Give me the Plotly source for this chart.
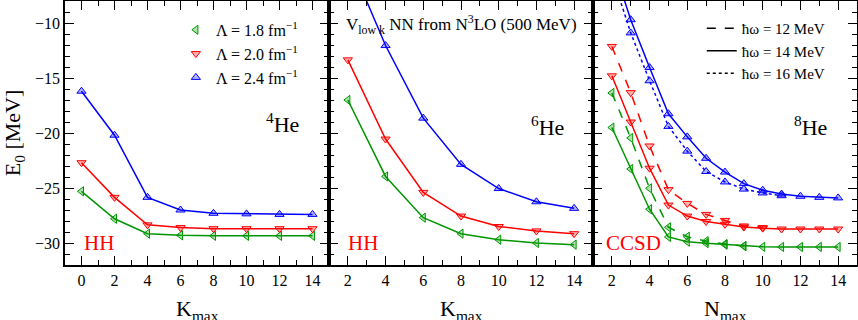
import plotly.graph_objects as go
from plotly.subplots import make_subplots

# panel 1: 4He, hyperspherical harmonics
k_he4 = [0, 2, 4, 6, 8, 10, 12, 14]
he4_l18 = [-25.3, -27.8, -29.15, -29.3, -29.35, -29.35, -29.35, -29.35]
he4_l20 = [-22.7, -25.85, -28.35, -28.6, -28.7, -28.7, -28.7, -28.7]
he4_l24 = [-16.2, -20.2, -25.85, -27.0, -27.3, -27.35, -27.4, -27.4]

# panel 2: 6He, hyperspherical harmonics
k_he6 = [2, 4, 6, 8, 10, 12, 14]
he6_l18 = [-17.0, -23.95, -27.7, -29.15, -29.7, -30.0, -30.15]
he6_l20 = [-13.35, -20.55, -25.4, -27.55, -28.5, -28.9, -29.15]
he6_l24 = [-4.0, -12.05, -18.65, -22.85, -25.05, -26.25, -26.85]

# panel 3: 8He, CCSD
n_he8 = [2, 3, 4, 5, 6, 7, 8, 9, 10, 11, 12, 13, 14]
he8_l18_hw14 = [-19.5, -23.27, -26.93, -29.45, -29.88, -30.02, -30.15, -30.28,
                -30.35, -30.36, -30.36, -30.36, -30.36]
he8_l20_hw14 = [-14.8, -19.0, -23.2, -26.55, -27.55, -28.05, -28.3, -28.55,
                -28.65, -28.73, -28.73, -28.73, -28.73]
he8_l24_hw14 = [-4.4, -9.7, -14.05, -18.25, -20.35, -22.3, -23.55, -24.6,
                -25.2, -25.55, -25.75, -25.85, -25.9]
n_he8_l18_hw12 = [2, 3, 4, 5, 6, 7, 8, 9]
he8_l18_hw12 = [-16.36, -20.45, -25.03, -28.57, -29.43, -29.83, -30.1, -30.28]
n_he8_l20_hw12 = [2, 3, 4, 5, 6, 7, 8, 9, 10]
he8_l20_hw12 = [-12.13, -16.33, -21.18, -25.15, -26.4, -27.4, -27.95, -28.45, -28.6]
n_he8_l24_hw16 = [2, 3, 4, 5, 6, 7, 8, 9, 10, 11]
he8_l24_hw16 = [-5.6, -10.9, -15.25, -19.4, -21.65, -23.5, -24.45, -25.1, -25.45, -25.7]

lambda_labels = ["Λ = 1.8 fm<sup>−1</sup>", "Λ = 2.0 fm<sup>−1</sup>", "Λ = 2.4 fm<sup>−1</sup>"]
hw_labels = ["ħω = 12 MeV", "ħω = 14 MeV", "ħω = 16 MeV"]
x_titles = ["K<sub>max</sub>", "K<sub>max</sub>", "N<sub>max</sub>"]

FONT = "Liberation Serif"
GREEN = "rgb(0,150,0)"
RED = "rgb(255,0,0)"
BLUE = "rgb(0,0,255)"
FILLS = {GREEN: "rgba(0,150,0,0.3)", RED: "rgba(255,0,0,0.3)", BLUE: "rgba(0,0,255,0.3)"}
SYMBOLS = {GREEN: "triangle-left", RED: "triangle-down", BLUE: "triangle-up"}

fig = make_subplots(rows=1, cols=3, shared_yaxes=True, horizontal_spacing=0)


def add_curve(x, y, color, col, dash="solid"):
    fig.add_trace(go.Scatter(
        x=x, y=y, mode="lines+markers", showlegend=False,
        line=dict(color=color, width=1.5, dash=dash),
        marker=dict(symbol=SYMBOLS[color], size=8, color=FILLS[color],
                    line=dict(color=color, width=1)),
    ), row=1, col=col)


add_curve(k_he4, he4_l18, GREEN, 1)
add_curve(k_he4, he4_l20, RED, 1)
add_curve(k_he4, he4_l24, BLUE, 1)

add_curve(k_he6, he6_l18, GREEN, 2)
add_curve(k_he6, he6_l20, RED, 2)
add_curve(k_he6, he6_l24, BLUE, 2)

add_curve(n_he8_l18_hw12, he8_l18_hw12, GREEN, 3, "dash")
add_curve(n_he8_l20_hw12, he8_l20_hw12, RED, 3, "dash")
add_curve(n_he8_l24_hw16, he8_l24_hw16, BLUE, 3, "dot")
add_curve(n_he8, he8_l18_hw14, GREEN, 3)
add_curve(n_he8, he8_l20_hw14, RED, 3)
add_curve(n_he8, he8_l24_hw14, BLUE, 3)

# legend entries (markers only) for the cutoffs
for lab, color in zip(lambda_labels, [GREEN, RED, BLUE]):
    fig.add_trace(go.Scatter(
        x=[None], y=[None], mode="markers", name=lab, legend="legend",
        marker=dict(symbol=SYMBOLS[color], size=8, color=FILLS[color],
                    line=dict(color=color, width=1)),
    ), row=1, col=1)

# legend entries (line styles) for the oscillator frequencies
for lab, dash in zip(hw_labels, ["dash", "solid", "dot"]):
    fig.add_trace(go.Scatter(
        x=[None], y=[None], mode="lines", name=lab, legend="legend2",
        line=dict(color="black", width=1.5, dash=dash),
    ), row=1, col=3)

axis_style = dict(
    showline=True, linecolor="black", linewidth=1.5, mirror="ticks",
    ticks="inside", ticklen=9, tickwidth=1.2, tickcolor="black",
    showgrid=False, zeroline=False, automargin=False,
    tickfont=dict(family=FONT, size=16, color="black"),
    minor=dict(ticks="inside", ticklen=5, tickwidth=1, tickcolor="black", dtick=1),
)

fig.update_xaxes(**axis_style, dtick=2, tick0=0)
fig.update_xaxes(range=[-1, 15], row=1, col=1)
fig.update_xaxes(range=[1, 15], row=1, col=2)
fig.update_xaxes(range=[1, 15], row=1, col=3)
fig.update_yaxes(**axis_style, range=[-32, -8], dtick=5, tick0=0)

title_font = dict(family=FONT, size=22, color="black")
fig.update_yaxes(title=dict(text="E<sub>0</sub> [MeV]", font=title_font, standoff=14), row=1, col=1)

# x titles as annotations so they can sit a little lower than plotly allows
for i, t in enumerate(x_titles):
    ax = "x" if i == 0 else f"x{i + 1}"
    fig.add_annotation(x=0.5, y=-0.108, xref=f"{ax} domain", yref="paper", text=t,
                       showarrow=False, xanchor="center", yanchor="top", font=title_font)

# panel labels
nuc_font = dict(family=FONT, size=22, color="black")
red_font = dict(family=FONT, size=21, color="red")
fig.add_annotation(x=13.3, y=-19.1, xref="x", yref="y", text="<sup>4</sup>He",
                   showarrow=False, xanchor="right", yanchor="middle", font=nuc_font)
fig.add_annotation(x=13.57, y=-19.4, xref="x2", yref="y2", text="<sup>6</sup>He",
                   showarrow=False, xanchor="right", yanchor="middle", font=nuc_font)
fig.add_annotation(x=13.49, y=-19.4, xref="x3", yref="y3", text="<sup>8</sup>He",
                   showarrow=False, xanchor="right", yanchor="middle", font=nuc_font)
fig.add_annotation(x=0, y=-30, xref="x", yref="y", text="HH",
                   showarrow=False, xanchor="left", yanchor="middle", font=red_font)
fig.add_annotation(x=1.88, y=-30, xref="x2", yref="y2", text="HH",
                   showarrow=False, xanchor="left", yanchor="middle", font=red_font)
fig.add_annotation(x=1.58, y=-30, xref="x3", yref="y3", text="CCSD",
                   showarrow=False, xanchor="left", yanchor="middle", font=red_font)
fig.add_annotation(x=1.77, y=-10.1, xref="x2", yref="y2",
                   text="V<sub>low k</sub> NN from N<sup>3</sup>LO (500 MeV)",
                   showarrow=False, xanchor="left", yanchor="middle",
                   font=dict(family=FONT, size=17, color="black"))

legend_font = dict(family=FONT, size=16, color="black")
fig.update_layout(
    width=858, height=320,
    margin=dict(l=65, r=1, t=1, b=55, autoexpand=False),
    paper_bgcolor="white", plot_bgcolor="white",
    font=dict(family=FONT, color="black"),
    legend=dict(x=0.140, y=0.955, xanchor="left", yanchor="top",
                bgcolor="rgba(0,0,0,0)", font=legend_font, tracegroupgap=0,
                itemwidth=30),
    legend2=dict(x=0.804, y=0.958, xanchor="left", yanchor="top",
                 bgcolor="rgba(0,0,0,0)", font=dict(family=FONT, size=15, color="black"),
                 tracegroupgap=0, itemwidth=30),
)

# page body has a default 8px margin; drop it so the figure fills the window
fig.write_html("out.html", config={"displayModeBar": False},
               post_script="document.body.style.margin = '0';")
